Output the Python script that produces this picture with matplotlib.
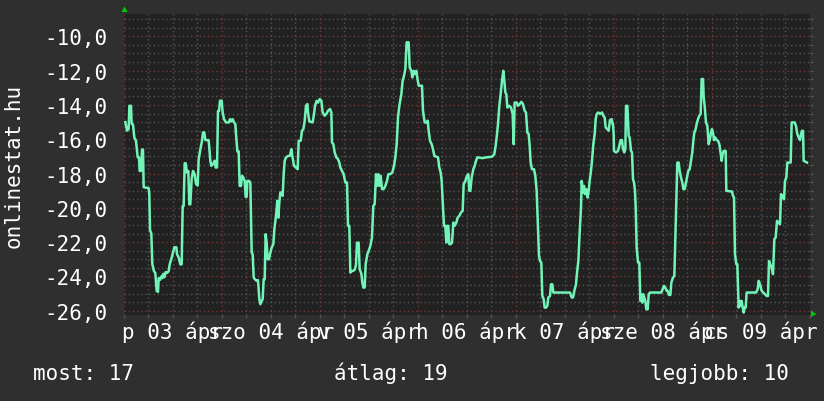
import numpy as np
import matplotlib
matplotlib.use('Agg')
import matplotlib.pyplot as plt
from matplotlib.patches import Polygon
from matplotlib.transforms import blended_transform_factory

# --- data (hours within each day, value) ---
day_labels = ['p 03 ápr', 'szo 04 ápr', 'v 05 ápr', 'h 06 ápr',
              'k 07 ápr', 'sze 08 ápr', 'cs 09 ápr']

apr03_h = [0.33, 0.73, 1.14, 1.31, 1.71, 1.88, 2.20, 2.53, 2.94, 3.35, 3.67, 3.84, 4.16, 4.41, 4.65, 4.82,
           6.04, 6.20, 6.37, 6.69, 6.94, 7.35, 7.67, 8.00, 8.33, 8.49, 8.82, 9.14, 9.39, 9.63, 9.88, 10.20,
           10.53, 10.94, 11.18, 11.75, 12.33, 12.82, 12.98, 13.39, 13.80, 14.12, 14.37, 14.61, 14.86, 15.10,
           15.43, 15.75, 16.00, 16.24, 16.57, 16.90, 17.31, 17.63, 18.04, 18.29, 18.69, 19.10, 19.35, 19.67,
           19.92, 20.73, 21.14, 21.39, 21.80, 22.20, 22.45, 22.78, 23.02, 23.27, 23.51, 23.92]
apr03_v = [-15.0, -15.5, -15.4, -14.05, -14.05, -15.1, -15.15, -15.9, -16.1, -17.05, -17.05, -17.85, -17.85,
           -16.6, -16.6, -18.8, -18.85, -19.2, -21.3, -21.5, -23.3, -23.7, -23.8, -24.85, -24.9, -24.1, -24.2,
           -24.0, -24.1, -23.85, -24.05, -23.75, -23.8, -23.7, -23.3, -22.85, -22.3, -22.3, -22.7, -22.9, -23.3,
           -23.3, -19.9, -19.9, -17.4, -17.4, -17.95, -17.85, -19.8, -19.8, -18.3, -17.85, -18.05, -18.6, -18.7,
           -17.15, -16.6, -16.1, -15.6, -15.6, -16.05, -16.05, -17.25, -17.55, -17.45, -17.25, -17.65, -17.65,
           -14.35, -14.35, -13.75, -13.75]

apr04_h = [0.16, 0.49, 0.98, 1.71, 1.96, 2.29, 2.61, 2.94, 3.27, 3.43, 3.76, 4.08, 4.33, 4.65, 4.90, 5.22,
           5.55, 5.80, 6.04, 6.20, 6.61, 6.94, 7.27, 7.51, 7.76, 8.08, 8.49, 8.82, 9.14, 9.39, 9.71, 9.96,
           10.20, 10.45, 10.69, 10.94, 11.18, 11.51, 11.75, 12.16, 12.57, 12.82, 13.22, 13.55, 13.80, 14.04,
           14.29, 14.61, 14.86, 15.10, 15.35, 15.67, 16.24, 16.65, 16.98, 17.22, 17.63, 18.12, 18.53, 18.78,
           19.27, 19.59, 19.92, 20.24, 20.57, 20.90, 21.06, 21.39, 22.20, 22.53, 22.78, 23.18, 23.51]
apr04_v = [-14.44, -14.83, -15.02, -15.02, -14.83, -14.96, -14.83, -15.02, -15.12, -15.70, -16.71, -16.71,
           -18.72, -18.72, -18.13, -18.23, -18.43, -19.36, -19.36, -18.43, -18.43, -18.52, -22.61, -22.71,
           -24.07, -24.17, -24.26, -24.22, -25.33, -25.62, -25.43, -25.33, -24.17, -24.17, -21.54, -22.03,
           -23.0, -23.0, -22.71, -22.32, -22.12, -21.25, -20.47, -19.59, -20.57, -19.69, -19.11, -19.11,
           -19.30, -18.04, -17.26, -17.06, -16.97, -16.97, -16.58, -16.97, -17.55, -17.65, -17.75, -16.09,
           -16.09, -15.51, -15.41, -14.96, -14.05, -13.95, -14.44, -14.96, -15.02, -14.53, -14.05, -13.76,
           -13.86]

apr05_h = [-0.08, 0.33, 0.65, 1.14, 1.55, 1.96, 2.45, 2.78, 2.94, 3.27, 3.59, 4.00, 4.41, 4.73, 4.98, 5.39,
           5.80, 6.20, 6.61, 6.86, 7.18, 7.43, 7.76, 8.16, 8.57, 8.82, 9.06, 9.47, 9.71, 10.12, 10.37, 10.61,
           10.94, 11.18, 11.59, 11.92, 12.33, 12.73, 13.06, 13.39, 13.71, 13.96, 14.29, 14.53, 14.86, 15.18,
           15.59, 16.00, 16.41, 16.73, 17.14, 17.71, 18.12, 18.45, 18.78, 19.10, 19.43, 19.92, 20.24, 20.57,
           20.90, 21.22, 21.71, 21.96, 22.37, 22.61, 22.94, 23.27, 23.59]
apr05_v = [-13.66, -13.76, -14.44, -14.63, -14.53, -14.34, -14.24, -14.44, -16.19, -16.29, -16.77, -17.06,
           -17.16, -17.36, -17.65, -17.84, -18.04, -18.52, -18.52, -21.05, -21.05, -23.78, -23.68, -23.68,
           -23.58, -23.29, -22.03, -22.03, -23.58, -23.83, -24.36, -24.65, -24.65, -23.29, -22.71, -22.51,
           -22.22, -21.73, -19.88, -19.79, -18.04, -18.72, -18.04, -18.72, -18.13, -18.91, -18.91, -18.72,
           -18.43, -18.04, -18.04, -17.94, -17.55, -17.06, -16.29, -14.73, -14.05, -13.37, -12.59, -12.30,
           -11.91, -10.35, -10.35, -11.81, -12.01, -12.39, -12.01, -12.20, -12.01]

apr06_h = [-0.25, 0.16, 0.98, 1.22, 1.63, 2.04, 2.37, 2.61, 2.94, 3.35, 3.67, 4.00, 4.90, 5.22, 5.55, 5.80,
           6.12, 6.37, 6.69, 6.94, 7.18, 7.43, 7.67, 8.00, 8.33, 8.65, 8.98, 9.39, 9.71, 10.12, 10.53, 10.94,
           11.18, 11.59, 12.00, 12.33, 12.57, 12.82, 13.14, 13.55, 13.88, 14.20, 14.53, 15.84, 16.65, 18.12,
           18.69, 19.02, 19.35, 19.59, 19.92, 20.24, 20.57, 20.90, 21.14, 21.39, 21.63, 21.88, 22.37, 22.78,
           23.18, 23.43, 23.67]
apr06_v = [-12.30, -12.88, -12.88, -14.34, -15.02, -15.02, -14.92, -15.51, -16.09, -16.29, -16.58, -16.97,
           -17.06, -17.65, -17.94, -18.43, -19.98, -21.05, -21.05, -22.03, -21.05, -21.05, -22.12, -22.12,
           -22.03, -20.86, -21.05, -20.86, -20.57, -20.47, -20.27, -20.18, -18.62, -18.43, -18.13, -18.04,
           -19.01, -19.01, -18.23, -17.75, -17.55, -17.26, -17.06, -17.10, -17.06, -17.02, -16.87, -16.38,
           -15.70, -15.12, -14.05, -13.37, -12.59, -12.01, -12.59, -13.27, -13.37, -14.15, -14.05, -14.15,
           -14.53, -16.29, -13.86]

apr07_h = [0.16, 0.49, 0.90, 1.31, 1.71, 2.12, 2.45, 2.78, 3.10, 3.35, 3.59, 3.92, 4.41, 4.73, 5.06, 5.31,
           5.63, 5.88, 6.20, 6.45, 6.78, 7.02, 7.35, 7.67, 7.92, 8.33, 8.57, 8.90, 9.14, 13.22, 13.63, 13.96,
           14.29, 14.69, 14.94, 15.27, 15.59, 15.92, 16.08, 16.41, 16.65, 16.90, 17.22, 17.55, 17.80, 18.04,
           18.37, 18.61, 18.94, 19.27, 19.51, 19.76, 20.16, 20.57, 21.06, 21.39, 21.71, 21.96, 22.37, 22.69,
           23.02, 23.43, 23.67]
apr07_v = [-13.86, -14.05, -13.95, -13.82, -13.95, -14.34, -14.44, -15.61, -15.70, -16.38, -17.36, -17.75,
           -17.75, -18.13, -19.01, -20.66, -22.80, -23.10, -23.19, -25.14, -25.33, -25.82, -25.82, -25.72,
           -25.23, -25.14, -24.46, -24.46, -24.94, -24.94, -25.23, -25.23, -24.84, -24.46, -23.78, -23.10,
           -21.44, -19.98, -18.43, -19.11, -18.72, -19.20, -18.91, -19.40, -19.01, -18.43, -17.84, -17.26,
           -16.29, -15.70, -14.83, -14.53, -14.44, -14.53, -14.44, -14.63, -14.73, -15.31, -15.41, -15.51,
           -14.88, -14.83, -15.12]

apr08_h = [-0.25, -0.08, 0.00, 0.49, 0.98, 1.31, 1.63, 1.96, 2.20, 2.53, 2.78, 2.94, 3.27, 3.43, 3.59, 3.84,
           4.16, 4.41, 4.65, 4.90, 5.14, 5.31, 5.55, 5.88, 6.20, 6.45, 6.69, 6.94, 7.18, 7.43, 7.67, 7.92,
           8.25, 8.49, 8.82, 11.59, 11.92, 12.24, 12.57, 12.90, 13.14, 13.47, 13.80, 14.04, 14.45, 14.78,
           15.10, 15.35, 15.51, 15.84, 16.08, 16.41, 16.73, 16.98, 17.31, 17.55, 17.88, 18.20, 18.53, 18.86,
           19.18, 19.43, 19.67, 20.00, 20.24, 20.57, 20.90, 21.22, 21.47, 21.80, 21.96, 22.20, 22.53, 22.86,
           23.18, 23.51, 23.76]
apr08_v = [-15.12, -15.70, -16.68, -16.77, -16.68, -16.38, -16.05, -16.05, -16.58, -16.77, -16.58, -14.05,
           -14.05, -14.92, -15.80, -15.90, -16.68, -16.77, -18.33, -18.52, -19.01, -19.98, -22.32, -23.19,
           -23.19, -25.43, -25.04, -25.53, -25.04, -25.23, -25.43, -25.92, -25.92, -25.04, -24.94, -24.94,
           -24.75, -24.55, -24.65, -24.84, -24.84, -25.08, -25.08, -24.36, -24.07, -23.97, -21.05, -19.01,
           -17.36, -17.36, -17.84, -18.23, -18.52, -18.91, -18.91, -18.62, -18.23, -17.84, -17.75, -17.26,
           -16.77, -16.09, -15.61, -15.41, -15.12, -14.83, -14.63, -14.53, -12.49, -12.49, -13.56, -14.05,
           -15.02, -15.22, -16.29, -15.99, -15.61]

apr09_h = [-0.25, 0.00, 0.24, 0.49, 0.82, 1.14, 1.47, 1.80, 2.04, 2.37, 2.61, 2.86, 3.35, 3.51, 4.90, 5.14,
           5.39, 5.63, 5.96, 6.20, 6.53, 6.78, 7.02, 7.27, 7.51, 7.76, 8.00, 8.25, 8.49, 10.78, 11.18, 11.43,
           11.75, 12.16, 12.57, 12.98, 13.39, 13.71, 13.96, 14.29, 14.69, 14.94, 15.27, 15.59, 15.92, 16.65,
           16.90, 17.22, 17.63, 17.88, 18.20, 18.45, 19.27, 19.51, 20.24, 20.57, 20.90, 21.22, 21.55, 21.80,
           22.04, 22.29, 22.45, 22.78, 23.27]
apr09_v = [-15.61, -15.41, -15.61, -16.05, -15.90, -16.05, -16.09, -16.29, -16.68, -17.26, -16.87, -16.68,
           -16.68, -19.01, -19.05, -19.30, -19.40, -22.71, -23.29, -23.29, -25.82, -25.43, -25.72, -25.43,
           -25.82, -26.11, -25.82, -25.82, -24.94, -24.94, -24.75, -24.26, -24.46, -24.84, -24.94, -25.04,
           -25.14, -25.14, -23.10, -23.29, -23.58, -23.87, -21.83, -21.73, -20.76, -20.96, -19.20, -19.30,
           -19.50, -18.43, -18.23, -17.36, -17.36, -15.02, -15.02, -15.22, -15.70, -15.90, -16.05, -15.70,
           -15.51, -15.51, -17.26, -17.30, -17.36]

y_ticks = [-26, -24, -22, -20, -18, -16, -14, -12, -10]
y_label = 'onlinestat.hu'
stat_now = 17
stat_avg = 19
stat_best = 10

# --- style ---
BG = '#2f2f2f'
CANVAS = '#212121'
LINE = '#72f4b8'
MINOR = '#555555'
MAJOR = '#733636'
TXT = '#ffffff'
ARROW = '#00cc00'
MONO = 'DejaVu Sans Mono'
FS = 15
W, H = 824, 402

day_h = [apr03_h, apr04_h, apr05_h, apr06_h, apr07_h, apr08_h, apr09_h]
day_v = [apr03_v, apr04_v, apr05_v, apr06_v, apr07_v, apr08_v, apr09_v]
hours = np.concatenate([24 * i + np.array(h) for i, h in enumerate(day_h)])
vals = np.concatenate([np.array(v) for v in day_v])

fig = plt.figure(figsize=(W / 100, H / 100), dpi=100, facecolor=BG)
ax = fig.add_axes([124 / W, 1 - 316 / H, (810 - 124) / W, (316 - 14.7) / H])
ax.set_facecolor(CANVAS)

ax.plot(hours, vals, color=LINE, lw=1.8, zorder=3)

ax.set_xlim(0, 24 * len(day_labels))
ax.set_ylim(-26.25, -8.68)
ax.set_xticks(np.arange(0, 24 * len(day_labels) + 1, 24))
ax.set_xticks(np.arange(0, 24 * len(day_labels) + 1, 6), minor=True)
ax.set_yticks(y_ticks)
ax.set_yticks(np.arange(-26, -8.6, 0.5), minor=True)
ax.grid(which='major', color=MAJOR, linestyle=(0, (1, 2)), lw=1)
ax.grid(which='minor', color=MINOR, linestyle=(0, (1, 2)), lw=1)
ax.set_axisbelow(True)
for s in ax.spines.values():
    s.set_visible(False)

ax.tick_params(axis='x', which='both', bottom=True, length=2, width=1,
               color='#555555', labelbottom=False)
ax.tick_params(axis='y', which='both', left=False, right=True, length=2,
               width=1, color='#555555', pad=10)
ax.set_yticklabels([f'{t:.1f}'.replace('.', ',') for t in y_ticks],
                   family=MONO, fontsize=FS, color=TXT)

tr = blended_transform_factory(ax.transData, fig.transFigure)
for i, lab in enumerate(day_labels):
    ax.text(24 * i + 12, 1 - 339 / H, lab, transform=tr, ha='center', va='baseline',
            family=MONO, fontsize=FS, color=TXT, clip_on=False)

fig.text(14 / W, 1 - 165.5 / H, y_label, rotation=90, ha='center', va='center',
         family=MONO, fontsize=FS, color=TXT)

fig.text(33 / W, 1 - 380 / H, f'most: {stat_now}', va='baseline',
         family=MONO, fontsize=FS, color=TXT)
fig.text(334 / W, 1 - 380 / H, f'átlag: {stat_avg}', va='baseline',
         family=MONO, fontsize=FS, color=TXT)
fig.text(650 / W, 1 - 380 / H, f'legjobb: {stat_best}', va='baseline',
         family=MONO, fontsize=FS, color=TXT)

# rrd-style axis arrows
for pts in ([(121.5, 13), (127.5, 13), (124.5, 7.5)],
            [(811, 312), (811, 318), (816.5, 315)]):
    fig.add_artist(Polygon([(x / W, 1 - y / H) for x, y in pts], closed=True,
                           transform=fig.transFigure, color=ARROW, lw=0))

fig.savefig('out.png', dpi=100, facecolor=BG)
